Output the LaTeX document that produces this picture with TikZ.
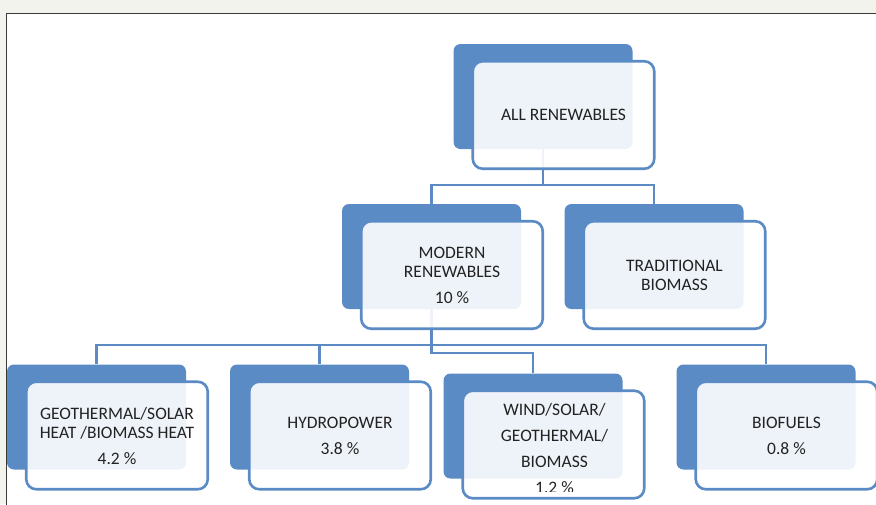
\documentclass[tikz,border=0pt]{standalone}
\usepackage{fontspec}
\setmainfont{Carlito}
\definecolor{bblue}{HTML}{5B8BC5}
\definecolor{bggray}{HTML}{F3F3EE}
\definecolor{framegray}{HTML}{3A3A3A}
\definecolor{txt}{HTML}{222222}
\begin{document}
\begin{tikzpicture}[x=1pt,y=-1pt,
  backbox/.style={fill=bblue, rounded corners=7pt, minimum width=179pt, minimum height=105pt, inner sep=0pt},
  frontbox/.style={draw=bblue, line width=2.6pt, fill=white, fill opacity=0.9, text opacity=1, rounded corners=10pt, minimum width=181.5pt, minimum height=107.5pt, align=center, font=\fontsize{17.5}{19}\selectfont, text=txt, inner sep=0pt},
  plaintext/.style={align=center, font=\fontsize{17.5}{26}\selectfont, text=txt, inner sep=0pt},
  link/.style={draw=bblue, line width=2.8pt}]
\useasboundingbox (0,0) rectangle (876,504);
\fill[bggray] (0,0) rectangle (876,504);
\draw[framegray, fill=white, line width=1pt] (6,13.5) rectangle (880,510);
% back boxes
\node[backbox] (topb) at (543,96.5) {};
\node[backbox] (modb) at (431.5,256.5) {};
\node[backbox] (tradb) at (654,256.5) {};
\node[backbox] (geob) at (96.5,417) {};
\node[backbox] (hydb) at (319.5,417) {};
\node[backbox] (windb) at (533,426) {};
\node[backbox] (biob) at (766,417) {};
% connectors
\coordinate (j1) at (543,185);
\coordinate (j2) at (431.5,345);
\coordinate (j3) at (431.5,353);
\draw[link] (topb.south) -- (j1) -| (modb.north);
\draw[link] (j1) -| (tradb.north);
\draw[link] (modb.south) -- (j3) -| (windb.north);
\draw[link] (j2) -| (geob.north);
\draw[link] (j2) -| (hydb.north);
\draw[link] (j2) -| (biob.north);
% front boxes
\node[frontbox] (top) at ([shift={(20.5,18.5)}]topb.center) {ALL RENEWABLES};
\node[frontbox] (mod) at ([shift={(20.5,18.5)}]modb.center) {MODERN\\RENEWABLES\\[7pt]10 \%};
\node[frontbox] (trad) at ([shift={(20.5,18.5)}]tradb.center) {TRADITIONAL\\BIOMASS};
\node[frontbox] (geo) at ([shift={(20.5,18.5)}]geob.center) {GEOTHERMAL/SOLAR\\HEAT /BIOMASS HEAT\\[7pt]4.2 \%};
\node[frontbox] (hyd) at ([shift={(20.5,18.5)}]hydb.center) {HYDROPOWER\\[7pt]3.8 \%};
\node[frontbox] (wind) at ([shift={(20.5,18.5)}]windb.center) {};
\node[frontbox] (bio) at ([shift={(20.5,18.5)}]biob.center) {BIOFUELS\\[7pt]0.8 \%};
\begin{scope}
\clip (455,385) rectangle (650,491);
\node[plaintext] (windt) at ([shift={(1,4)}]wind.center) {WIND/SOLAR/\\GEOTHERMAL/\\BIOMASS\\1.2 \%};
\end{scope}
\end{tikzpicture}
\end{document}
